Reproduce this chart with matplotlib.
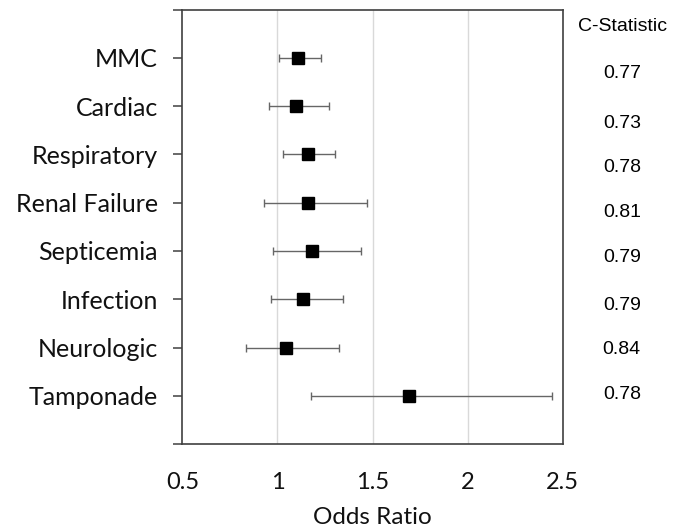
import matplotlib
matplotlib.use("Agg")
import matplotlib.pyplot as plt

# данные
outcomes = ["MMC", "Cardiac", "Respiratory", "Renal Failure",
            "Septicemia", "Infection", "Neurologic", "Tamponade"]
odds_ratio = [1.11, 1.095, 1.16, 1.16, 1.18, 1.135, 1.045, 1.69]
ci_low = [1.01, 0.955, 1.03, 0.93, 0.975, 0.965, 0.835, 1.175]
ci_high = [1.23, 1.27, 1.305, 1.47, 1.44, 1.345, 1.325, 2.445]
c_stat = ["0.77", "0.73", "0.78", "0.81", "0.79", "0.79", "0.84", "0.78"]
x_ticks = [0.5, 1, 1.5, 2, 2.5]

# сдвиг подписей C-статистики относительно строки (в единицах оси)
c_offset = [0.33, 0.35, 0.28, 0.21, 0.14, 0.12, 0.05, -0.02]

fig = plt.figure(figsize=(6.83, 5.30), dpi=100)
ax = fig.add_axes([0.267, 0.162, 0.557, 0.820])

rows = list(range(1, len(outcomes) + 1))
err_lo = [o - l for o, l in zip(odds_ratio, ci_low)]
err_hi = [h - o for o, h in zip(odds_ratio, ci_high)]

ax.errorbar(odds_ratio, rows, xerr=[err_lo, err_hi], fmt="none",
            ecolor="#666666", elinewidth=1.0, capsize=2.6, capthick=1.0, zorder=2)
ax.plot(odds_ratio, rows, "s", color="black", markersize=8.6, zorder=3)

ax.set_xlim(0.5, 2.5)
ax.set_ylim(9, 0)
ax.set_xticks(x_ticks)
ax.set_xticklabels([f"{t:g}" for t in x_ticks])
ax.set_yticks(range(0, 10))
ax.set_yticklabels([""] + outcomes + [""])

for t in [1, 1.5, 2]:
    ax.axvline(t, color="#d9d9d9", lw=1.0, zorder=1)

for s in ax.spines.values():
    s.set_color("#404040")
    s.set_linewidth(1.2)

ax.tick_params(axis="y", length=6.5, width=1.1, color="#404040", pad=11,
               labelsize=18)
ax.tick_params(axis="x", length=0, pad=20, labelsize=17)
for lab in ax.get_yticklabels() + ax.get_xticklabels():
    lab.set_family("Lato")
    lab.set_color("#111111")

ax.set_xlabel("Odds Ratio", family="Lato", fontsize=17.5, color="#111111", labelpad=10)

# колонка C-статистики справа
ax.text(2.815, 0.36, "C-Statistic", ha="center", va="center",
        family="Liberation Sans", fontsize=14, clip_on=False)
for r, c, off in zip(rows, c_stat, c_offset):
    ax.text(2.81, r + off, c, ha="center", va="center",
            family="Liberation Sans", fontsize=14, clip_on=False)

fig.savefig("out.png", dpi=100)
